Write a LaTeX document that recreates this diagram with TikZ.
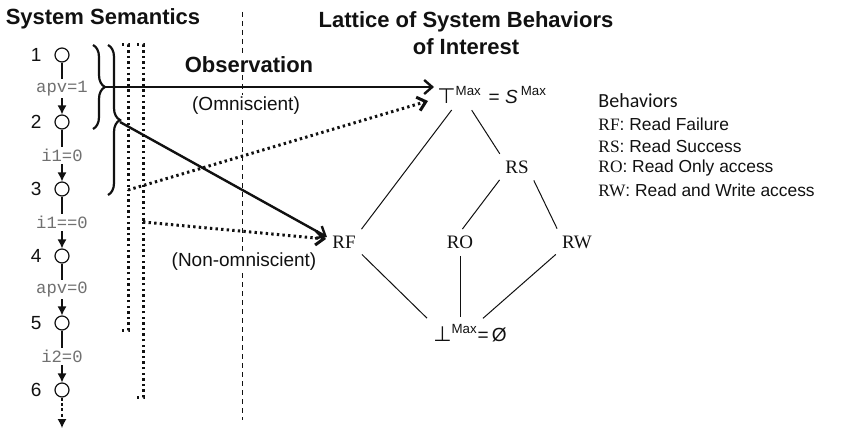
\documentclass[tikz,border=0pt]{standalone}
\usepackage{fontspec}
\setmainfont{Liberation Sans}
\setmonofont{Liberation Mono}
\newfontfamily\timesfont{Liberation Serif}
\newfontfamily\handfont{Carlito}
\newfontfamily\symfont{DejaVu Sans}
\usepackage{tikz}
\usetikzlibrary{arrows.meta,calc,decorations.pathreplacing,positioning}
\definecolor{ink}{HTML}{111111}
\definecolor{guardgray}{HTML}{707070}
\tikzset{
  figtitle/.style={font=\bfseries\fontsize{11}{13.5}\selectfont, text=ink, align=center},
  statenode/.style={
    circle,
    draw=ink,
    line width=0.6pt,
    minimum size=7pt,
    inner sep=0pt,
    fill=white
  },
  statenum/.style={font=\fontsize{9.5}{11}\selectfont, text=ink},
  guard/.style={font=\ttfamily\fontsize{8.6}{10}\selectfont, text=guardgray, fill=white, inner sep=1pt},
  transarrow/.style={-{Latex[length=4.5pt,width=4.5pt]}, line width=0.6pt, draw=ink},
  obsbrace/.style={decorate, decoration={brace, amplitude=6pt}, line width=1.1pt, draw=ink},
  obsbracket/.style={line width=1.5pt, dash pattern=on 1.2pt off 1.6pt, draw=ink},
  obsarrow/.style={-{Straight Barb[length=4pt,width=7pt]}, line width=1.2pt, draw=ink},
  dotarrow/.style={obsarrow, line width=1.5pt, dash pattern=on 1.2pt off 1.6pt},
  divider/.style={line width=0.5pt, dash pattern=on 2.5pt off 2pt, draw=ink},
  obslabel/.style={font=\fontsize{9.5}{11}\selectfont, text=ink, fill=white, inner sep=1pt},
  latnode/.style={font=\timesfont\fontsize{9.5}{11}\selectfont, text=ink, inner sep=1.5pt},
  latline/.style={line width=0.5pt, draw=ink, shorten <=2pt, shorten >=2pt},
  legendhead/.style={font=\handfont\fontsize{10}{12}\selectfont, text=ink, anchor=west, inner sep=0pt},
  legenditem/.style={font=\fontsize{8.7}{10}\selectfont, text=ink, anchor=west, inner sep=0pt}
}

\begin{document}
\begin{tikzpicture}[x=0.5pt, y=-0.5pt]
  \useasboundingbox (0,0) rectangle (865,444);

  \draw[divider] (242,12) -- (242,420);

  \node[figtitle] (semtitle) at (103,19) {System Semantics};
  \node[figtitle] (lattitle) at (466,33) {Lattice of System Behaviors\\of Interest};

  \foreach \i/\y in {1/55,2/122,3/189,4/256,5/323,6/390}
    \node[statenode, label={[statenum, label distance=3pt]left:\i}] (s\i) at (62,\y) {};
  \coordinate (send) at (62,428);

  \draw[transarrow] (s1) -- node[guard] {apv=1} (s2);
  \draw[transarrow] (s2) -- node[guard] {i1=0} (s3);
  \draw[transarrow] (s3) -- node[guard] {i1==0} (s4);
  \draw[transarrow] (s4) -- node[guard] {apv=0} (s5);
  \draw[transarrow] (s5) -- node[guard] {i2=0} (s6);
  \draw[transarrow, dash pattern=on 1.5pt off 1.2pt] (s6) -- (send);

  \draw[obsbrace] (93,45) -- (93,129);
  \draw[obsbrace] (108,45) -- (108,195);
  \draw[obsbracket] (122,45) -- (128,45) -- (128,190);
  \draw[obsbracket] (122,330) -- (128,330) -- (128,190);
  \draw[obsbracket] (137,45) -- (143,45) -- (143,222);
  \draw[obsbracket] (137,397) -- (143,397) -- (143,222);
  \coordinate (b1tip) at (105,87);
  \coordinate (b2tip) at (120,122);
  \coordinate (b3tap) at (128,190);
  \coordinate (b4tap) at (143,222);

  \node[obslabel, font=\bfseries\fontsize{11}{13}\selectfont] (obs) at (249,65) {Observation};
  \node[obslabel] (omni) at (246,106) {(Omniscient)};
  \node[obslabel] (nonomni) at (244,262) {(Non-omniscient)};

  \node[latnode, font=\fontsize{9.5}{11}\selectfont, anchor=west] (top) at (434,95) {{\symfont\fontsize{10.5}{11}\selectfont ⊤}\textsuperscript{Max}};
  \node[latnode, font=\fontsize{9.5}{11}\selectfont, right=0pt of top] (topeq) {= \textit{S}\,\textsuperscript{Max}};
  \node[latnode] (rs) at (517,167) {RS};
  \node[latnode] (rf) at (344,242) {RF};
  \node[latnode] (ro) at (460,242) {RO};
  \node[latnode] (rw) at (577,242) {RW};
  \node[latnode, font=\fontsize{9.5}{11}\selectfont] (bot) at (470,333) {{\symfont\fontsize{10.5}{11}\selectfont ⊥}\textsuperscript{Max}=\,Ø};

  \draw[obsarrow] (b1tip) -- (top.west |- b1tip);
  \draw[dotarrow] (b3tap) -- ($(top.west)+(-6,6)$);
  \draw[obsarrow] (b2tip) -- ($(rf.west)+(-2,-5)$);
  \draw[dotarrow] (b4tap) -- ($(rf.west)+(-3,-3)$);

  \draw[latline] (top.-115) -- (rf.north east);
  \draw[latline] (top.-50) -- (rs.north west);
  \draw[latline] (rs.south west) -- (ro.north);
  \draw[latline] (rs.south east) -- (rw.north west);
  \draw[latline] (rf.south east) -- (bot.north west);
  \draw[latline] (ro.south) -- (ro |- bot.north);
  \draw[latline] (rw.south west) -- ($(bot.north)+(10,0)$);

  \node[legendhead] (leghead) at (598,101) {Behaviors};
  \node[legenditem] (legrf) at (598,124) {{\timesfont RF}: Read Failure};
  \node[legenditem] (legrs) at (598,146) {{\timesfont RS}: Read Success};
  \node[legenditem] (legro) at (598,168) {{\timesfont RO}: Read Only access};
  \node[legenditem] (legrw) at (598,190) {{\timesfont RW}: Read and Write access};
\end{tikzpicture}
\end{document}
